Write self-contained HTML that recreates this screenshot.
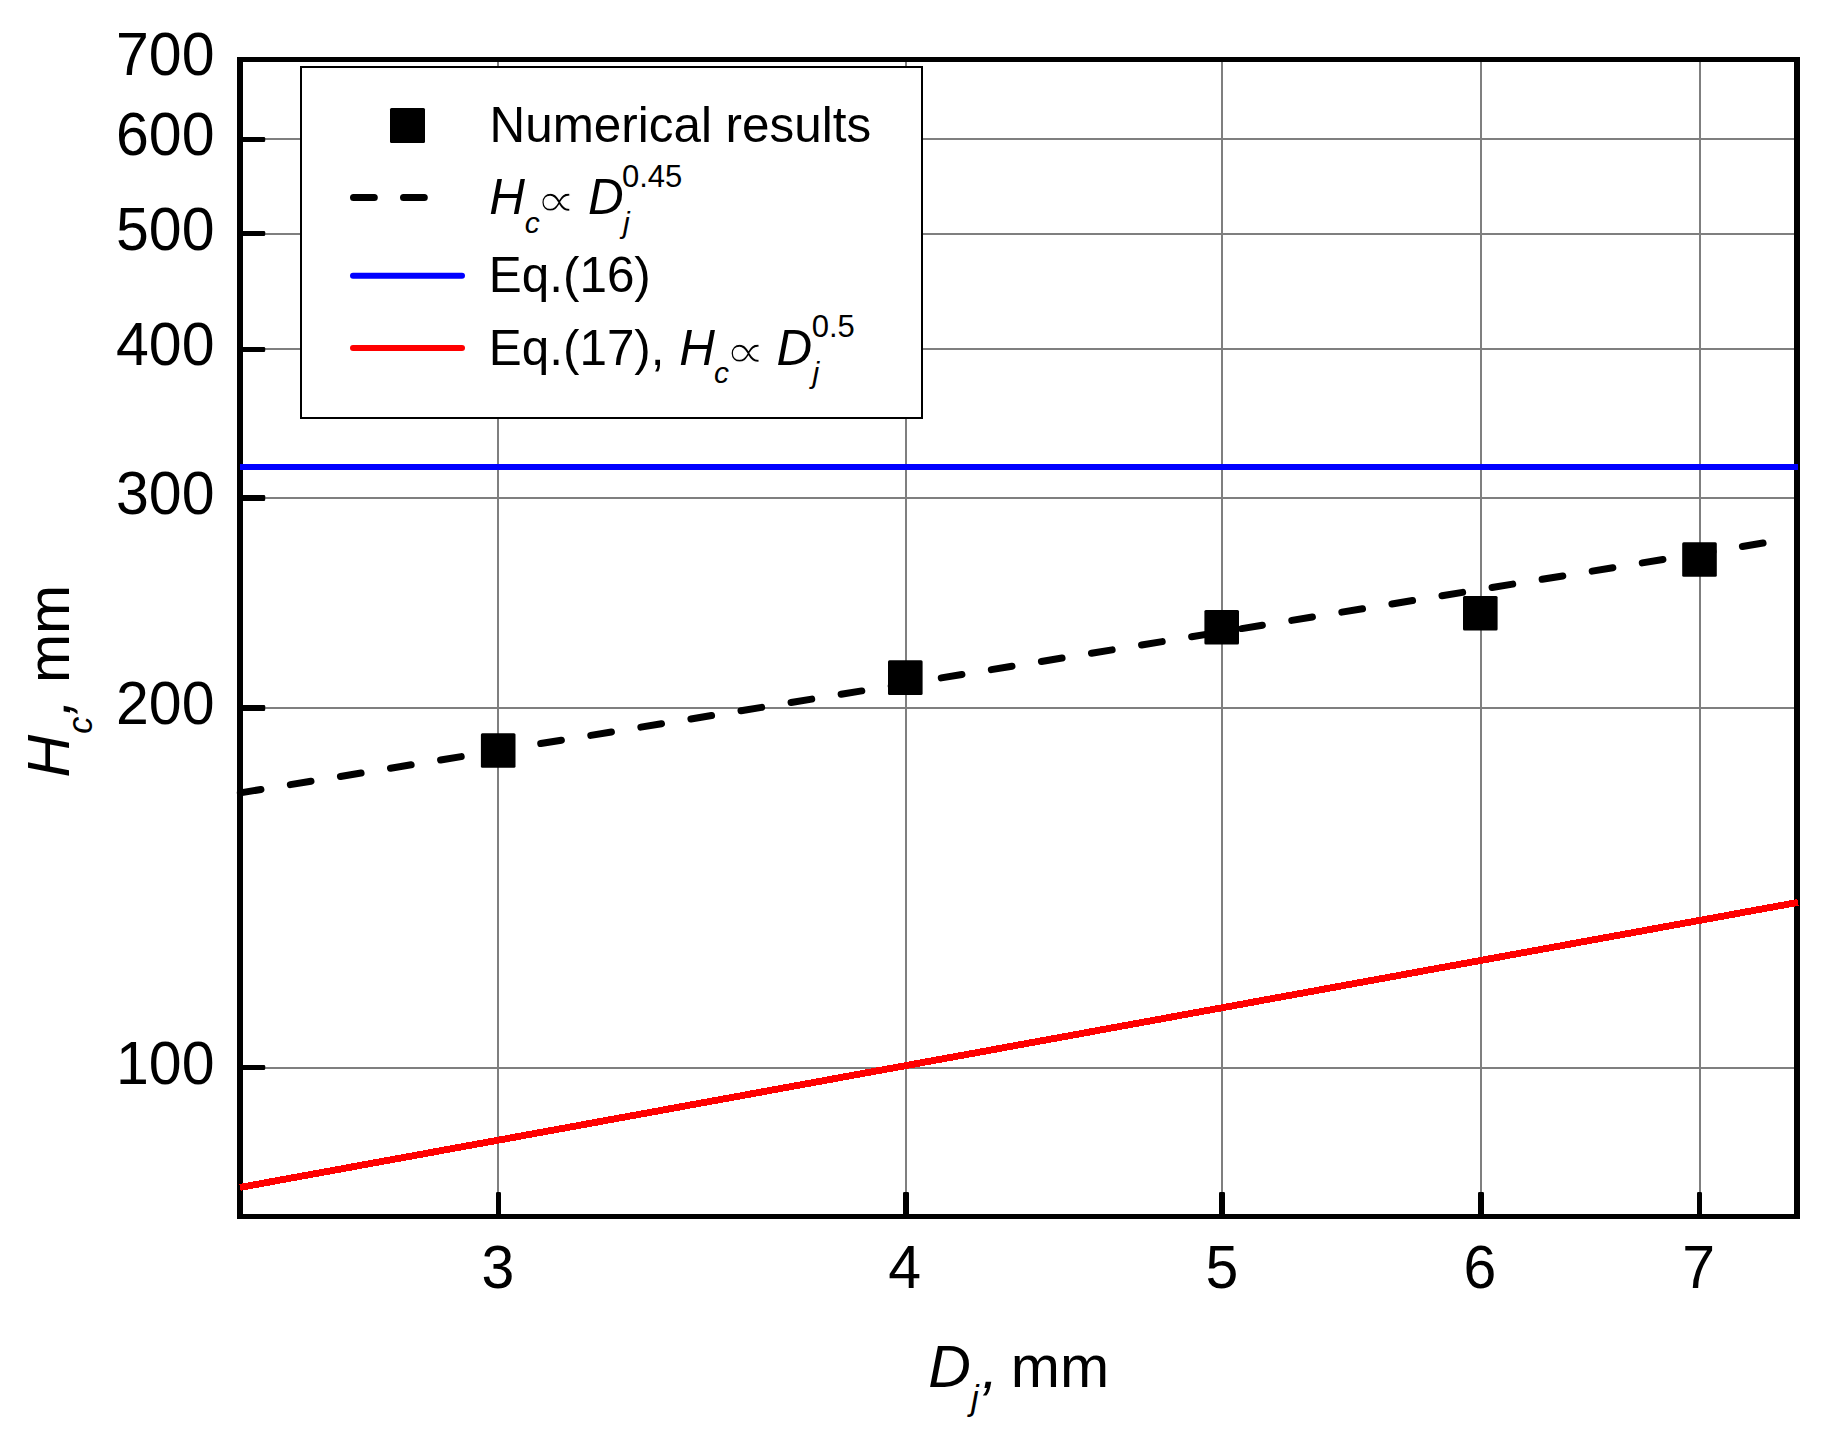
<!DOCTYPE html>
<html lang="en">
<head>
<meta charset="utf-8">
<title>Hc versus Dj</title>
<style>
html,body{margin:0;padding:0;background:#fff;}
body{width:1837px;height:1446px;overflow:hidden;}
svg{display:block;}
text{font-family:"Liberation Sans", Arial, Helvetica, sans-serif;fill:#000;}
.it{font-style:italic;}
.sym{font-family:"DejaVu Sans","Liberation Sans",sans-serif;font-style:normal;font-weight:400;}
</style>
</head>
<body>
<svg width="1837" height="1446" viewBox="0 0 1837 1446">
<rect x="0" y="0" width="1837" height="1446" fill="#fff"/>

<g id="grid" fill="#7f7f7f" shape-rendering="crispEdges">
<rect x="497" y="60" width="2" height="1156"/>
<rect x="905" y="60" width="2" height="1156"/>
<rect x="1221" y="60" width="2" height="1156"/>
<rect x="1480" y="60" width="2" height="1156"/>
<rect x="1699" y="60" width="2" height="1156"/>
<rect x="241" y="1067" width="1555" height="2"/>
<rect x="241" y="707" width="1555" height="2"/>
<rect x="241" y="497" width="1555" height="2"/>
<rect x="241" y="348" width="1555" height="2"/>
<rect x="241" y="233" width="1555" height="2"/>
<rect x="241" y="138" width="1555" height="2"/>
</g>
<g id="ticks" fill="#000">
<rect x="496" y="1192" width="5" height="24" rx="1.3"/>
<rect x="903" y="1192" width="6" height="24" rx="1.3"/>
<rect x="1219" y="1192" width="6" height="24" rx="1.3"/>
<rect x="1478" y="1192" width="6" height="24" rx="1.3"/>
<rect x="1697" y="1192" width="5" height="24" rx="1.3"/>
<rect x="241" y="1065" width="24.2" height="5" rx="1.3"/>
<rect x="241" y="705" width="24.2" height="6" rx="1.3"/>
<rect x="241" y="495" width="24.2" height="6" rx="1.3"/>
<rect x="241" y="347" width="24.2" height="5" rx="1.3"/>
<rect x="241" y="231" width="24.2" height="5" rx="1.3"/>
<rect x="241" y="137" width="24.2" height="5" rx="1.3"/>
</g>
<g id="frame" fill="#000" shape-rendering="crispEdges">
<rect x="237" y="57" width="6" height="1162"/>
<rect x="1794" y="57" width="6" height="1162"/>
<rect x="237" y="57" width="1563" height="5"/>
<rect x="237" y="1214" width="1563" height="5"/>
</g>
<g id="curves" fill="none">
<rect x="240" y="464" width="1558" height="6" fill="#0000ff" shape-rendering="crispEdges"/>
<line x1="240" y1="1187.4" x2="1798" y2="902.4" stroke="#ff0000" stroke-width="6.9" shape-rendering="crispEdges"/>
<line x1="240.3" y1="792.85" x2="1763.5" y2="543.0" stroke="#000" stroke-width="7" stroke-linecap="round" stroke-dasharray="20.90 29.84"/>
</g>
<g id="points" fill="#000">
<rect x="480.9" y="733.2" width="34.6" height="34.6" rx="1.5"/>
<rect x="888.0" y="660.3" width="34.6" height="34.6" rx="1.5"/>
<rect x="1204.4" y="609.9" width="34.6" height="34.6" rx="1.5"/>
<rect x="1463.0" y="595.9" width="34.6" height="34.6" rx="1.5"/>
<rect x="1682.2" y="542.2" width="34.6" height="34.6" rx="1.5"/>
</g>
<g id="ylabels" font-size="59" text-anchor="end">
<text transform="translate(214.5 1084.0) scale(1 1.028)">100</text>
<text transform="translate(214.5 724.0) scale(1 1.028)">200</text>
<text transform="translate(214.5 514.0) scale(1 1.028)">300</text>
<text transform="translate(214.5 365.0) scale(1 1.028)">400</text>
<text transform="translate(214.5 250.3) scale(1 1.028)">500</text>
<text transform="translate(214.5 154.9) scale(1 1.028)">600</text>
<text transform="translate(214.5 75.1) scale(1 1.028)">700</text>
</g>
<g id="xlabels" font-size="59" text-anchor="middle">
<text transform="translate(497.9 1287.6) scale(1 1.028)">3</text>
<text transform="translate(904.7 1287.6) scale(1 1.028)">4</text>
<text transform="translate(1222.0 1287.6) scale(1 1.028)">5</text>
<text transform="translate(1479.8 1287.6) scale(1 1.028)">6</text>
<text transform="translate(1698.7 1287.6) scale(1 1.028)">7</text>
</g>
<text id="xtitle" font-size="59"><tspan class="it" x="928.2" y="1386.6">D</tspan><tspan class="it" font-size="34.4" x="971.0" y="1409.9">j</tspan><tspan class="it" x="981.8" y="1388.0">, </tspan><tspan x="1010.8" y="1386.6">mm</tspan></text>
<text id="ytitle" transform="rotate(-90)" font-size="59"><tspan class="it" x="-777.6" y="68.9">H</tspan><tspan class="it" font-size="34.4" x="-733.7" y="91.8">c</tspan><tspan class="it" x="-715.2" y="70.4">, </tspan><tspan x="-683.1" y="68.9">mm</tspan></text>
<g id="legend">
<rect x="301" y="67" width="621" height="351" fill="#fff" stroke="#000" stroke-width="2" shape-rendering="crispEdges"/>
<rect x="390" y="108" width="35" height="35" rx="1.5" fill="#000"/>
<line x1="353.5" y1="197.4" x2="425" y2="197.4" stroke="#000" stroke-width="7" stroke-linecap="round" stroke-dasharray="20.8 29.2"/>
<line x1="353" y1="275.8" x2="462" y2="275.8" stroke="#0000ff" stroke-width="6" stroke-linecap="round"/>
<line x1="353" y1="348" x2="462" y2="348" stroke="#ff0000" stroke-width="6" stroke-linecap="round"/>
<text font-size="49.4" x="489.6" y="141.6">Numerical results</text>
<text font-size="49.4"><tspan class="it" x="489.2" y="213.8">H</tspan><tspan class="it" font-size="30" x="524.7" y="232.6">c</tspan><tspan class="it" x="588.0" y="213.8">D</tspan><tspan class="it" font-size="30" x="622.9" y="232.6">j</tspan><tspan font-size="31" x="621.9" y="186.6">0.45</tspan></text><text class="sym" font-size="48.8" stroke="#fff" stroke-width="1.3" transform="scale(1.168 1)" x="458.54" y="216.9">∝</text>
<text font-size="49.4" x="488.85" y="291.9">Eq.(16)</text>
<text font-size="49.4"><tspan x="488.85" y="365.1">Eq.(17), </tspan><tspan class="it" x="679.2" y="365.1">H</tspan><tspan class="it" font-size="30" x="714.0" y="383.0">c</tspan><tspan class="it" x="776.6" y="365.1">D</tspan><tspan class="it" font-size="30" x="812.45" y="383.0">j</tspan><tspan font-size="31" x="811.7" y="336.6">0.5</tspan></text><text class="sym" font-size="48.8" stroke="#fff" stroke-width="1.3" transform="scale(1.168 1)" x="620.44" y="368.2">∝</text>
</g>
</svg>
</body>
</html>
